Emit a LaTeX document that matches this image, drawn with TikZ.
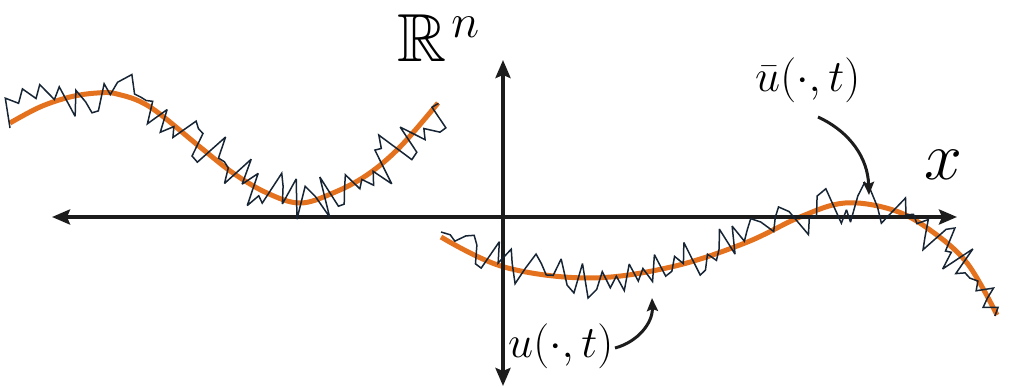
\documentclass[tikz,border=0pt]{standalone}
\usepackage{fix-cm}
\usepackage{amssymb}
\usetikzlibrary{arrows.meta}
\definecolor{curveorange}{RGB}{228,113,30}
\definecolor{noisenavy}{RGB}{22,36,52}
\definecolor{axisblack}{RGB}{28,28,28}
\tikzset{
  axisline/.style={line width=3.5pt, draw=axisblack,
    {Stealth[length=18pt,width=15pt,inset=3pt]}-{Stealth[length=18pt,width=15pt,inset=3pt]}},
  smoothcurve/.style={line width=5pt, draw=curveorange},
  noisy/.style={line width=1.5pt, draw=noisenavy, miter limit=3},
  pointer/.style={line width=3pt, draw=axisblack, -{Stealth[length=13pt,width=11pt,inset=2pt]}},
  biglabel/.style={inner sep=0pt, font=\fontsize{68}{72}\selectfont},
  smalllabel/.style={inner sep=0pt, font=\fontsize{45}{50}\selectfont},
}
\begin{document}
\begin{tikzpicture}[x=1pt,y=-1pt]
\useasboundingbox (0,0) rectangle (1013,387);
\pgfmathsetseed{23}
% smooth curves
\draw[smoothcurve] plot[smooth, tension=0.6] coordinates{(10,123) (40,107) (70,97) (97,93) (117,94) (150,107) (200,147) (233,173) (267,193) (300,203) (333,193) (367,175) (400,147) (438,103)};
\draw[smoothcurve] plot[smooth, tension=0.6] coordinates{(441,237) (504,267) (589,278) (671,267) (745,243) (800,217) (845,203) (893,210) (930,230) (967,263) (997,315)};
% axes
\coordinate (xl) at (52,217);
\coordinate (xr) at (957,217);
\coordinate (yt) at (503,60);
\coordinate (yb) at (503,386);
\draw[axisline] (xl) -- (xr);
\draw[axisline] (yb) -- (yt);
% noisy samples
\draw[noisy] (10,128)
  \foreach \xa/\ya/\xb/\yb/\n [evaluate=\n as \len using {veclen(\xb-\xa,\yb-\ya)}] in
  {10/123/25/114/2, 25/114/40/107/2, 40/107/55/101/2, 55/101/70/97/2, 70/97/84/94/2, 84/94/97/93/2,
   97/93/117/94/3, 117/94/133/99/2, 133/99/150/107/3, 150/107/175/125/4, 175/125/200/147/5,
   200/147/217/160/3, 217/160/233/173/3, 233/173/250/185/3, 250/185/267/193/3, 267/193/284/200/3,
   284/200/300/203/2, 300/203/316/200/2, 316/200/333/193/3, 333/193/350/186/3, 350/186/367/175/3,
   367/175/384/162/3, 384/162/400/147/3, 400/147/420/125/4, 420/125/438/103/4}
  { \foreach \k [evaluate=\k as \r using {24*rand}] in {1,...,\n}
    { -- ({\xa+(\xb-\xa)*\k/\n-(\yb-\ya)/\len*\r},{\ya+(\yb-\ya)*\k/\n+(\xb-\xa)/\len*\r}) } };
\draw[noisy] (441,232)
  \foreach \xa/\ya/\xb/\yb/\n [evaluate=\n as \len using {veclen(\xb-\xa,\yb-\ya)}] in
  {441/237/472/254/5, 472/254/504/267/5, 504/267/546/276/6, 546/276/589/278/6, 589/278/630/275/6,
   630/275/671/267/6, 671/267/708/256/6, 708/256/745/243/6, 745/243/773/230/4, 773/230/800/217/4,
   800/217/822/208/3, 822/208/845/203/3, 845/203/870/204/4, 870/204/893/210/3, 893/210/912/218/3,
   912/218/930/230/3, 930/230/950/245/4, 950/245/967/263/4, 967/263/983/286/4, 983/286/997/315/5}
  { \foreach \k [evaluate=\k as \r using {22*rand}] in {1,...,\n}
    { -- ({\xa+(\xb-\xa)*\k/\n-(\yb-\ya)/\len*\r},{\ya+(\yb-\ya)*\k/\n+(\xb-\xa)/\len*\r}) } };
% labels
\node[biglabel, anchor=base west] (Rn) at (397,62) {$\mathbb{R}^{\kern5pt n}$};
\node[biglabel, anchor=base west] (xlab) at (924,180) {$x$};
\node[smalllabel, anchor=base west] (ubar) at (755,92) {$\bar u(\cdot, t)$};
\node[smalllabel, anchor=base west] (ulab) at (508,358) {$u(\cdot, t)$};
% pointers
\coordinate (ubarstart) at (818,117);
\coordinate (ubartip) at (869,195);
\coordinate (ustart) at (615,348);
\coordinate (utip) at (652,298);
\draw[pointer] (ubarstart) to[out=-25,in=92] (ubartip);
\draw[pointer] (ustart) to[out=15,in=-88] (utip);
\end{tikzpicture}
\end{document}
